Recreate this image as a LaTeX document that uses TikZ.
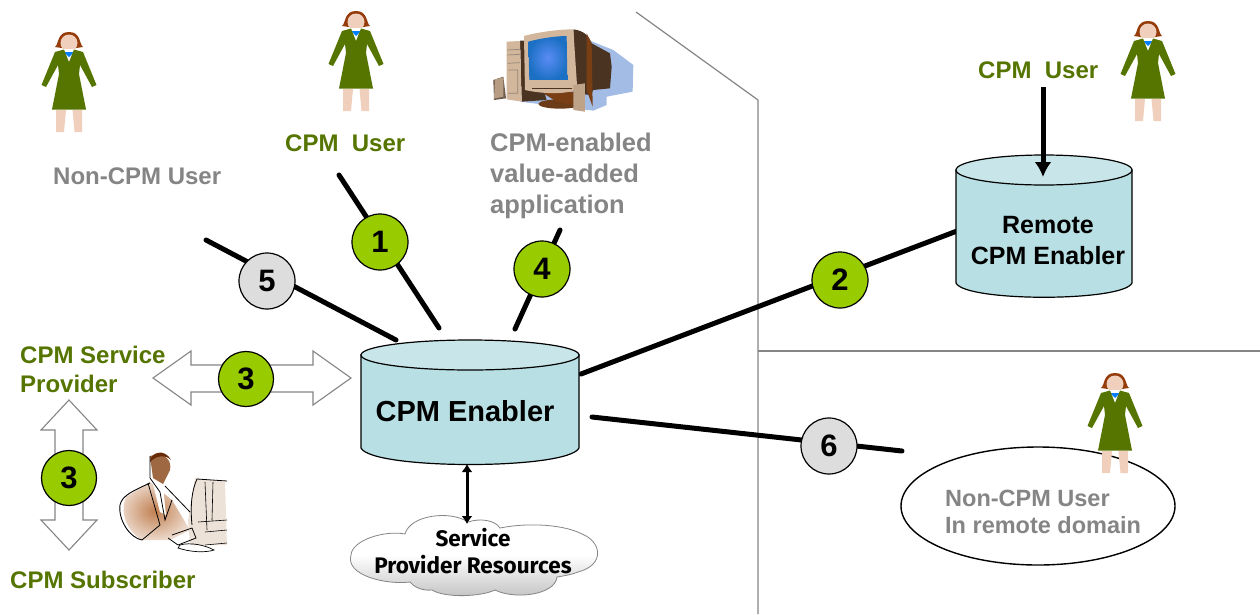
\documentclass[tikz,border=0pt]{standalone}
\usepackage{fontspec}
\setmainfont{Liberation Sans}
\newfontfamily\cloudfont{Fira Sans}
\usetikzlibrary{arrows.meta}
\definecolor{cpmgreen}{HTML}{557500}
\definecolor{cpmgray}{HTML}{858585}
\definecolor{lime}{HTML}{99CC00}
\definecolor{lgray}{HTML}{DDDDDD}
\definecolor{cylbody}{HTML}{B8DFE3}
\definecolor{cyltop}{HTML}{C8E6E9}
\definecolor{rule}{HTML}{858585}
\definecolor{skin}{HTML}{F0D0BC}
\definecolor{hair}{HTML}{963C0A}
\definecolor{tan1}{HTML}{D2B79C}
\definecolor{brown1}{HTML}{4A3320}
\definecolor{brown2}{HTML}{7A3E14}
\definecolor{shadow}{HTML}{A3BCE6}
\definecolor{jacket}{HTML}{C07F50}
\definecolor{scrcentre}{HTML}{5A8CF5}
\definecolor{scredge}{HTML}{1C70C4}
\tikzset{
  x=1pt,y=-1pt,
  conn/.style={line width=5pt,line cap=round,black},
  numgreen/.style={circle,draw=black,line width=1.2pt,fill=lime,minimum size=56pt,inner sep=0pt,font=\fontsize{31}{33}\selectfont\bfseries},
  numgray/.style={numgreen,fill=lgray},
  lab/.style={anchor=west,inner sep=0pt,align=left,font=\fontsize{24}{31}\selectfont\bfseries},
  labgreen/.style={lab,text=cpmgreen},
  labgray/.style={lab,text=cpmgray},
  labblack/.style={inner sep=0pt,align=center,font=\fontsize{25}{31}\selectfont\bfseries},
  bigarrow/.style={draw=rule,fill=white,line width=1.1pt,line join=miter},
  cyl/.style={draw=black,line width=1.2pt,fill=cylbody},
  cyltopst/.style={draw=black,line width=1.2pt,fill=cyltop},
  woman/.pic={
    \fill[skin] (-13,78)--(-3,78)--(-5,100)--(-13,100)--cycle;
    \fill[skin] (3.5,78)--(13,78)--(13,100)--(5.5,100)--cycle;
    \fill[hair] (-14,15) .. controls (-10,12) and (-12,0) .. (0,0)
      .. controls (12,0) and (10,12) .. (14,15) -- (0,17) -- cycle;
    \fill[skin] (0,11) ellipse [x radius=8.5,y radius=8.5];
    \fill[white] (-6,17)--(6,17)--(5,27)--(0,31)--(-5,27)--cycle;
    \fill[blue!50!cyan] (-5,20)--(5,20)--(0,25)--cycle;
    \fill[cpmgreen] (-5,17.5)--(0,30)--(5,17.5)--(14,20)--(27.5,53)--(23,55)--(11,33)--(10,42)--(17,77.5)--(-17,77.5)--(-10,42)--(-11,33)--(-23,55)--(-27.5,53)--(-14,20)--cycle;
  }
}
\begin{document}
\begin{tikzpicture}
\useasboundingbox (0,0) rectangle (1260,614);
\fill[white] (0,0) rectangle (1260,614);
% free ends of connectors
\coordinate (e1a) at (339,175);
\coordinate (e1b) at (439,328);
\coordinate (e5a) at (206,240);
\coordinate (e5b) at (396,340);
\coordinate (e4a) at (560,230);
\coordinate (e4b) at (515,329);
\coordinate (e2a) at (581,374);
\coordinate (e2b) at (957,231);
\coordinate (e6a) at (592,417);
\coordinate (e6b) at (902,451);
\coordinate (rua) at (1043,87);
\coordinate (rub) at (1043,177);
\coordinate (sra) at (467,464);
\coordinate (srb) at (467,524);
% domain rules
\draw[rule,line width=1.2pt] (636,12)--(758,100)--(758,614);
\draw[rule,line width=1.2pt] (758,351)--(1260,351);
% remote ellipse and figures
\draw[black,line width=1.4pt,fill=white] (1038,506) ellipse [x radius=137,y radius=59];
\pic at (69,32) {woman};
\pic at (356,11) {woman};
\pic at (1148,21) {woman};
\pic at (1115,373) {woman};
% computer
\begin{scope}[shift={(470,0)},x=0.3333pt,y=-0.3333pt]
  \fill[shadow] (360,122)--(430,150)--(490,195)--(488,275)--(410,290)--(410,315)--(370,332)--(150,305)--(220,290)--cycle;
  \fill[brown2!70!brown1] (270,312) ellipse [x radius=65,y radius=14];
  \fill[brown2] (220,280)--(320,275)--(305,315)--(260,305)--cycle;
  \fill[brown1] (150,122)--(175,122)--(230,300)--(155,305)--cycle;
  \fill[tan1] (110,125)--(150,123)--(155,305)--(110,298)--cycle;
  \draw[brown1!60,line width=0.7pt] (112,150)--(150,148) (112,165)--(150,163) (112,190)--(150,188) (115,210)--(143,210)--(143,280)--(115,280);
  \fill[brown1] (310,88) .. controls (340,92) and (355,105) .. (365,130) -- (420,160) -- (425,200)--(420,265)--(370,270)--(362,285)--(310,280)--cycle;
  \fill[brown2] (350,100)--(365,130)--(368,320)--(350,270)--cycle;
  \fill[tan1] (162,108) .. controls (210,95) and (270,88) .. (310,88) -- (322,270) .. controls (270,285) and (210,280) .. (165,270) -- cycle;
  \shade[inner color=scrcentre,outer color=scredge] (175,125) .. controls (210,115) and (260,108) .. (290,108)--(292,240)--(178,240)--cycle;
  \fill[brown1] (185,265)--(305,265)--(305,268)--(185,268)--cycle;
  \fill[brown1!80] (70,240)--(100,230)--(108,295)--(72,300)--cycle;
  \fill[tan1!80!brown1] (75,238)--(100,232)--(100,290)--(72,296)--cycle;
  \fill[tan1!85!brown1] (310,255)--(345,250)--(345,335)--(310,330)--cycle;
\end{scope}
% subscriber sketch
\begin{scope}
  \fill[tan1!40!white] (195,478) .. controls (205,480) and (215,480) .. (225,482)--(227,545)--(190,545)--(188,520)--cycle;
  \draw[black,line width=0.8pt] (192,525) .. controls (190,505) and (192,490) .. (197,479) -- (227,481);
  \draw[black,line width=0.6pt] (205,482)--(207,530) (213,482)--(212,520) (198,522)--(227,520) (205,532)--(227,530) (205,545)--(227,543);
  \shade[inner color=jacket,outer color=jacket!30!white] (126,497)--(150,482)--(172,500)--(190,530)--(170,540)--(142,540) .. controls (125,530) and (120,510) .. (126,497)--cycle;
  \fill[white] (152,480)--(163,486)--(166,515)--(160,512)--cycle;
  \fill[jacket!70!brown1] (150,456) .. controls (165,452) and (172,460) .. (170,470) -- (163,484) -- (153,478) -- cycle;
  \fill[hair!70!black] (150,462) .. controls (150,452) and (165,448) .. (171,460) .. controls (165,454) and (157,456) .. (152,460)--cycle;
  \draw[black,line width=0.9pt] (150,483) .. controls (135,490) and (122,495) .. (120,505) .. controls (118,520) and (130,538) .. (142,540);
  \draw[black,line width=0.8pt] (150,456)--(150,478)--(160,492)--(165,520)--(172,500) (148,483)--(160,525)--(142,540) (165,486)--(190,512) (172,535)--(192,528)--(196,538)--(178,545)--(168,538);
  \draw[black,line width=0.7pt] (180,545) .. controls (190,542) and (205,545) .. (214,550) .. controls (205,553) and (190,552) .. (178,548)--cycle;
\end{scope}
% connectors
\draw[conn] (e1a)--(e1b);
\draw[conn] (e5a)--(e5b);
\draw[conn] (e4a)--(e4b);
\draw[conn] (e2a)--(e2b);
\draw[conn] (e6a)--(e6b);
% remote cylinder
\draw[cyl] (956,170)--(956,283) .. controls (965,302) and (1123,302) .. (1132,283)--(1132,170)--cycle;
\draw[cyltopst] (1044,170) ellipse [x radius=88,y radius=15];
\draw[line width=5pt,-{Latex[length=15pt,width=17pt]}] (rua)--(rub);
% enabler cylinder
\draw[cyl] (361,355)--(361,448) .. controls (372,470) and (568,470) .. (579,448)--(579,355)--cycle;
\draw[cyltopst] (470,355) ellipse [x radius=109,y radius=15];
% double arrows
\draw[bigarrow] (153,378)--(191,351)--(191,365)--(313,365)--(313,351)--(351,378)--(313,405)--(313,392)--(191,392)--(191,405)--cycle;
\draw[bigarrow] (69,400)--(97,430)--(83,430)--(83,520)--(97,520)--(69,550)--(41,520)--(55,520)--(55,430)--(41,430)--cycle;
% cloud
\shade[draw=rule,line width=0.8pt,top color=white,bottom color=gray!50,middle color=white]
  (405,534) .. controls (410,515) and (450,510) .. (468,522)
  .. controls (480,518) and (495,520) .. (500,528)
  .. controls (530,522) and (565,525) .. (582,534)
  .. controls (602,542) and (605,565) .. (578,572)
  .. controls (570,575) and (563,576) .. (557,577)
  .. controls (555,595) and (515,600) .. (495,590)
  .. controls (480,597) and (445,598) .. (432,590)
  .. controls (422,591) and (414,587) .. (410,582)
  .. controls (385,585) and (345,575) .. (351,555)
  .. controls (352,540) and (385,530) .. (405,534) -- cycle;
\draw[line width=3pt,{Latex[length=8pt,width=11pt]}-{Latex[length=8pt,width=11pt]}] (sra)--(srb);
% numbered circles
\node[numgreen] (n1) at (380,242) {1};
\node[numgray] (n5) at (267,281) {5};
\node[numgreen] (n4) at (542,269) {4};
\node[numgreen] (n2) at (840,280) {2};
\node[numgray] (n6) at (829,446) {6};
\node[numgreen,minimum size=55pt] (n3a) at (246,379) {3};
\node[numgreen,minimum size=55pt] (n3b) at (69,478) {3};
% labels
\node[labgray] (tnon) at (53,176) {Non-CPM User};
\node[labgreen] (tu1) at (285,143) {CPM\ \ User};
\node[labgray,font=\fontsize{25.5}{31}\selectfont\bfseries] (tapp) at (490,176) {CPM-enabled\\value-added\\application};
\node[labgreen] (tu2) at (978,70) {CPM\ \ User};
\node[labblack] (trem) at (1048,241) {Remote\\CPM Enabler};
\node[labblack,font=\fontsize{29}{31}\selectfont\bfseries] (ten) at (465,411) {CPM Enabler};
\node[labgreen,font=\fontsize{24}{29}\selectfont\bfseries] (tsp) at (20,369) {CPM Service\\Provider};
\node[labgreen] (tsub) at (10,580) {CPM Subscriber};
\node[labgray,font=\fontsize{23.5}{27}\selectfont\bfseries] (trd) at (945,512) {Non-CPM User\\In remote domain};
\node[inner sep=0pt,align=center,font=\fontsize{22.5}{27}\cloudfont\bfseries] (tcl) at (473,551) {Service\\Provider Resources};
\end{tikzpicture}
\end{document}
